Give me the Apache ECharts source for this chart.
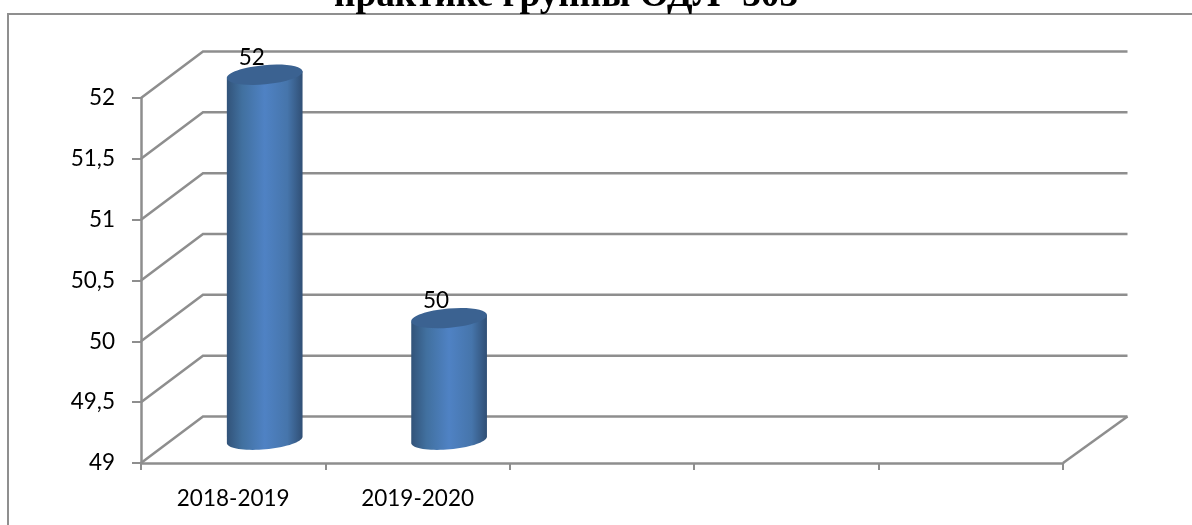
<!DOCTYPE html>
<html><head><meta charset="utf-8">
<style>html,body{margin:0;padding:0;background:#fff}#c{width:1192px;height:525px}</style>
<script src="https://cdn.jsdelivr.net/npm/echarts@6/dist/echarts.min.js"></script>
</head><body><div id="c"></div>
<script>
const titleText = 'практике группы ОДЛ- 303';
const categories = ['2018-2019', '2019-2020', '', '', ''];
const values = [52, 50];
const gridValues = [49, 49.5, 50, 50.5, 51, 51.5, 52];

const DEPTH = [62, -46.5];
const RIGHT_DEPTH = 64.5;
const LINE = '#8e8e8e';
const bodyGradient = {type:'linear',x:0,y:0,x2:1,y2:0,colorStops:[
  {offset:0,color:'#325379'},{offset:.2,color:'#41709f'},{offset:.5,color:'#4f82c4'},
  {offset:.8,color:'#4675ab'},{offset:1,color:'#304f75'}]};

const chart = echarts.init(document.getElementById('c'), null, {renderer:'canvas'});
chart.setOption({
  animation:false,
  backgroundColor:'#fff',
  title:{text:titleText,left:561,top:-27,textAlign:'center',
    textStyle:{fontFamily:'Liberation Serif',fontWeight:'bold',fontSize:37.3,color:'#000'}},
  graphic:[{type:'polyline',z:0,shape:{points:[[8,525],[8,14],[1192,14]]},
    style:{stroke:'#8f8f8f',lineWidth:2,fill:null}}],
  grid:{left:141,top:98,width:922,height:365},
  xAxis:{type:'category',data:categories,
    axisLine:{lineStyle:{color:LINE,width:2.5}},
    axisTick:{show:true,alignWithLabel:false,length:7,lineStyle:{color:LINE,width:2}},
    axisLabel:{interval:0,margin:24,fontFamily:'Lato',fontSize:22.5,color:'#000'},
    splitLine:{show:false}},
  yAxis:{type:'value',min:49,max:52,interval:0.5,
    axisLine:{show:true,lineStyle:{color:LINE,width:2.5}},
    axisTick:{show:true,length:9,lineStyle:{color:LINE,width:2}},
    axisLabel:{margin:26,fontFamily:'Lato',fontSize:22.5,color:'#000',padding:[2,0,0,0],
      formatter:v=>String(v).replace('.',',')},
    splitLine:{show:false}},
  series:[
    {type:'custom',coordinateSystem:'cartesian2d',z:1,silent:true,clip:false,
     data:gridValues.map(v=>[0,v]),
     encode:{x:0,y:1},
     renderItem:(params,api)=>{
       const v=api.value(1);
       const left=api.coord(['2018-2019',v])[1];
       const gx=params.coordSys.x, gw=params.coordSys.width;
       const children=[{type:'polyline',shape:{points:[[gx,left],[gx+DEPTH[0],left+DEPTH[1]],[gx+gw+RIGHT_DEPTH,left+DEPTH[1]]]},
         style:{stroke:LINE,lineWidth:2.5,fill:null}}];
       if(v===gridValues[0]) children.push({type:'line',shape:{x1:gx+gw,y1:left,x2:gx+gw+RIGHT_DEPTH,y2:left+DEPTH[1]},
         style:{stroke:LINE,lineWidth:2.5}});
       return {type:'group',children};
     }},
    {type:'custom',coordinateSystem:'cartesian2d',z:3,silent:true,clip:false,
     data:values.map((v,i)=>[categories[i],v]),
     encode:{x:0,y:1},
     renderItem:(params,api)=>{
       const cat=categories[params.dataIndex], v=api.value(1);
       const top=api.coord([cat,v]), base=api.coord([cat,gridValues[0]]);
       const cx=top[0]+DEPTH[0]/2+0.5, ty=top[1]+DEPTH[1]/2, by=base[1]+DEPTH[1]/2;
       const rx=38, ry=9.6, rot=0.09;
       // outline of the cylinder side: top edge across, then the tilted bottom half-ellipse
       const pts=[[cx+rx*Math.cos(rot),ty-rx*Math.sin(rot)],[cx-rx*Math.cos(rot),ty+rx*Math.sin(rot)]];
       for(let i=0;i<=36;i++){
         const t=Math.PI-Math.PI*i/36, ex=rx*Math.cos(t), ey=ry*Math.sin(t);
         pts.push([cx+ex*Math.cos(rot)+ey*Math.sin(rot), by-ex*Math.sin(rot)+ey*Math.cos(rot)]);
       }
       return {type:'group',children:[
         {type:'polygon',shape:{points:pts},style:{fill:bodyGradient}},
         {type:'ellipse',shape:{cx,cy:ty,rx,ry},rotation:rot,originX:cx,originY:ty,style:{fill:'#3b6291'}},
         {type:'text',x:cx-13,y:ty-17.5,style:{text:String(v),fill:'#000',font:'22.5px Lato',align:'center',verticalAlign:'middle'}}
       ]};
     }}
  ]
});
</script></body></html>
